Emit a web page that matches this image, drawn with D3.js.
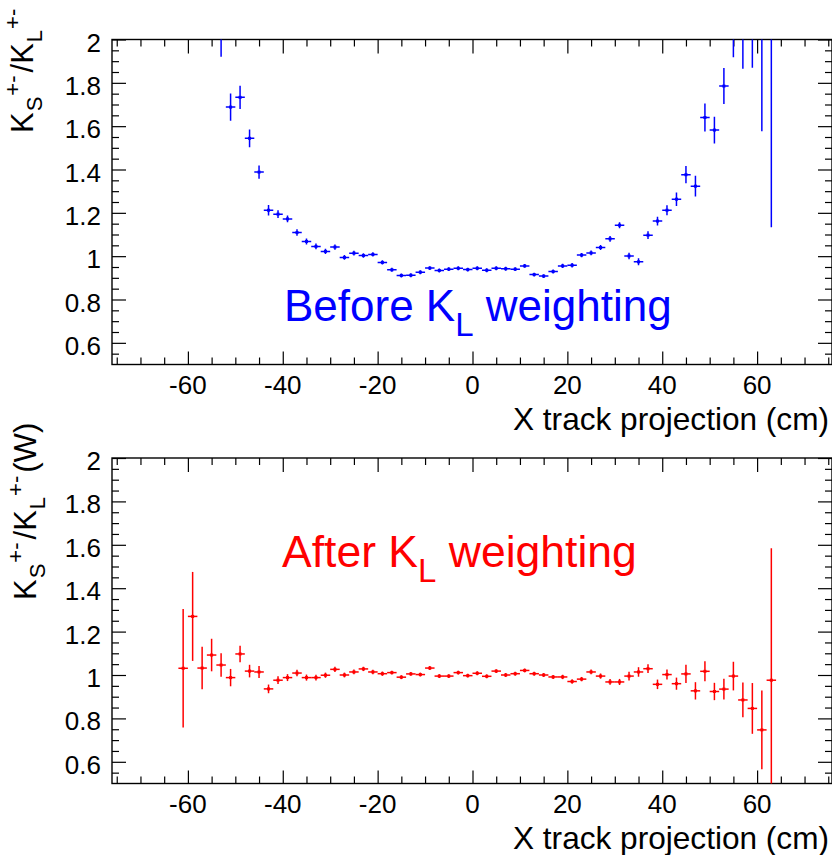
<!DOCTYPE html>
<html>
<head>
<meta charset="utf-8">
<script src="https://cdn.jsdelivr.net/npm/d3@7"></script>
<style>
  body { margin: 0; background: #fff; }
  text { font-family: "Liberation Sans", Arial, sans-serif; }
</style>
</head>
<body>
<div id="chart"></div>
<script>
var binX = [-63,-61,-59,-57,-55,-53,-51,-49,-47,-45,-43,-41,-39,-37,-35,-33,-31,-29,-27,-25,-23,-21,-19,-17,-15,-13,-11,-9,-7,-5,-3,-1,
  1,3,5,7,9,11,13,15,17,19,21,23,25,27,29,31,33,35,37,39,41,43,45,47,49,51,53,55,57,59,61,63];

// before weighting (null = empty bin)
var beforeVal = [null,null,null,null,null,2.30,1.688,1.733,1.544,1.388,1.212,1.194,1.172,1.109,1.068,1.045,1.022,1.042,0.994,1.014,1.003,1.008,0.971,0.937,0.911,0.912,0.926,0.945,0.934,0.940,0.944,0.938,
  0.944,0.935,0.944,0.942,0.940,0.955,0.915,0.908,0.929,0.955,0.958,1.005,1.015,1.040,1.080,1.143,1.001,0.974,1.097,1.162,1.212,1.263,1.376,1.323,1.640,1.582,1.785,2.20,2.30,2.40,2.50,2.60];
var beforeErr = [null,null,null,null,null,0.38,0.063,0.054,0.041,0.031,0.024,0.018,0.016,0.015,0.014,0.013,0.012,0.012,0.011,0.011,0.010,0.010,0.010,0.009,0.009,0.009,0.009,0.009,0.009,0.009,0.009,0.009,
  0.009,0.009,0.009,0.009,0.009,0.009,0.009,0.009,0.009,0.010,0.010,0.010,0.011,0.012,0.013,0.014,0.015,0.016,0.018,0.020,0.023,0.031,0.040,0.048,0.065,0.062,0.083,0.282,0.435,0.53,0.923,1.467];

// after KL weighting
var afterVal = [null,1.031,1.270,1.032,1.092,1.046,0.988,1.097,1.018,1.014,0.936,0.976,0.988,1.009,0.988,0.988,0.999,1.026,1.000,1.014,1.028,1.014,1.006,1.011,0.990,1.005,1.002,1.032,0.995,0.995,1.011,0.997,
  1.008,0.994,1.018,1.000,1.006,1.021,1.006,1.000,0.991,0.991,0.970,0.981,1.014,0.995,0.968,0.968,0.995,1.014,1.029,0.957,1.002,0.960,1.005,0.927,1.017,0.924,0.935,0.995,0.885,0.846,0.747,0.976];
var afterErr = [null,0.273,0.205,0.098,0.075,0.054,0.040,0.038,0.029,0.028,0.020,0.018,0.016,0.015,0.014,0.013,0.012,0.012,0.011,0.011,0.010,0.010,0.010,0.009,0.009,0.009,0.009,0.009,0.009,0.009,0.009,0.009,
  0.009,0.009,0.009,0.009,0.009,0.009,0.009,0.009,0.009,0.010,0.010,0.010,0.011,0.012,0.013,0.014,0.020,0.022,0.020,0.022,0.023,0.028,0.042,0.040,0.046,0.040,0.048,0.066,0.080,0.117,0.181,0.608];

var binHalf = 1;
var xTicks = [-60,-40,-20,0,20,40,60];
var yTicks = [0.6,0.8,1,1.2,1.4,1.6,1.8,2];
var xDomain = [-76,76];
var yDomain = [0.5,2];

var width = 832, height = 855;
var frameL = 112, frameR = 833;

var svg = d3.select("#chart").append("svg")
  .attr("width", width)
  .attr("height", height);

var x = d3.scaleLinear().domain(xDomain).range([frameL, frameR]);

function drawPanel(top, bottom, vals, errs, color, id) {
  var y = d3.scaleLinear().domain(yDomain).range([bottom, top]);
  var g = svg.append("g");

  var xMinor = d3.range(-75, 76, 5).filter(function(d){ return d % 20 != 0; });
  var yMinor = d3.range(0.55, 2.0, 0.05).filter(function(d){ return Math.abs(Math.round(d*5) - d*5) > 0.01; });

  // inward ticks on all four sides
  function tickLayer(axis, tr) {
    g.append("g").attr("class","tk").attr("transform", tr).call(axis);
  }
  tickLayer(d3.axisBottom(x).tickValues(xTicks).tickSize(-13).tickFormat(""), "translate(0," + bottom + ")");
  tickLayer(d3.axisBottom(x).tickValues(xMinor).tickSize(-7).tickFormat(""), "translate(0," + bottom + ")");
  tickLayer(d3.axisTop(x).tickValues(xTicks).tickSize(-14).tickFormat(""), "translate(0," + top + ")");
  tickLayer(d3.axisTop(x).tickValues(xMinor).tickSize(-7).tickFormat(""), "translate(0," + top + ")");
  tickLayer(d3.axisLeft(y).tickValues(yTicks).tickSize(-14).tickFormat(""), "translate(" + frameL + ",0)");
  tickLayer(d3.axisLeft(y).tickValues(yMinor).tickSize(-7).tickFormat(""), "translate(" + frameL + ",0)");
  tickLayer(d3.axisRight(y).tickValues(yTicks).tickSize(-14).tickFormat(""), "translate(" + (frameR - 1) + ",0)");
  tickLayer(d3.axisRight(y).tickValues(yMinor).tickSize(-7).tickFormat(""), "translate(" + (frameR - 1) + ",0)");
  g.selectAll(".tk .domain").remove();
  g.selectAll(".tk line").attr("stroke", "#000").attr("stroke-width", 1.2);

  g.append("rect")
    .attr("x", frameL).attr("y", top)
    .attr("width", frameR - 1 - frameL).attr("height", bottom - top)
    .attr("fill", "none").attr("stroke", "#000").attr("stroke-width", 1.4);

  // tick labels
  g.selectAll(".xl").data(xTicks).enter().append("text")
    .attr("x", function(d){ return x(d); })
    .attr("y", bottom + 29)
    .attr("text-anchor", "middle")
    .attr("font-size", "26px")
    .text(function(d){ return d; });
  g.selectAll(".yl").data(yTicks).enter().append("text")
    .attr("x", 101)
    .attr("y", function(d){ return y(d) + 12; })
    .attr("text-anchor", "end")
    .attr("font-size", "26px")
    .text(function(d){ return d; });

  g.append("text")
    .attr("x", 829).attr("y", bottom + 65)
    .attr("text-anchor", "end")
    .attr("font-size", "31.6px")
    .text("X track projection (cm)");

  // clip for points
  svg.append("clipPath").attr("id", id)
    .append("rect").attr("x", frameL).attr("y", top)
    .attr("width", frameR - frameL).attr("height", bottom - top);

  var pts = binX.map(function(d, i){ return {x: d, v: vals[i], e: errs[i]}; })
    .filter(function(d){ return d.v != null; });

  var pg = g.append("g").attr("clip-path", "url(#" + id + ")");
  pg.selectAll(".ev").data(pts).enter().append("line")
    .attr("x1", function(d){ return x(d.x); })
    .attr("x2", function(d){ return x(d.x); })
    .attr("y1", function(d){ return y(d.v - d.e); })
    .attr("y2", function(d){ return y(d.v + d.e); })
    .attr("stroke", color).attr("stroke-width", 1.5);
  pg.selectAll(".eh").data(pts).enter().append("line")
    .attr("x1", function(d){ return x(d.x - binHalf); })
    .attr("x2", function(d){ return x(d.x + binHalf); })
    .attr("y1", function(d){ return y(d.v); })
    .attr("y2", function(d){ return y(d.v); })
    .attr("stroke", color).attr("stroke-width", 1.5);
  pg.selectAll(".mk").data(pts).enter().append("rect")
    .attr("x", function(d){ return x(d.x) - 1.5; })
    .attr("y", function(d){ return y(d.v) - 1.5; })
    .attr("width", 3).attr("height", 3)
    .attr("fill", color);

  return g;
}

var gTop = drawPanel(39.5, 364.5, beforeVal, beforeErr, "#0000ff", "clipTop");
var gBot = drawPanel(458, 783.5, afterVal, afterErr, "#ff0000", "clipBot");

// y axis titles (rotated)
function yTitle(xb, yb, extra) {
  var t = svg.append("text")
    .attr("transform", "translate(" + xb + "," + yb + ") rotate(-90)")
    .attr("font-size", "31px");
  t.append("tspan").text("K");
  t.append("tspan").attr("font-size", "22px").attr("dy", 9).attr("dx", 1).text("S");
  t.append("tspan").attr("font-size", "22px").attr("dy", -22).attr("dx", 1).text("+-");
  t.append("tspan").attr("dy", 13).attr("dx", 3).text("/K");
  t.append("tspan").attr("font-size", "22px").attr("dy", 9).attr("dx", 1).text("L");
  t.append("tspan").attr("font-size", "22px").attr("dy", -22).attr("dx", 1).text("+-");
  if (extra) t.append("tspan").attr("dy", 13).attr("dx", 3).text(extra);
}
yTitle(33, 133, null);
yTitle(36, 600, "(W)");

// annotations
function label(xs, yb, fs, word, color) {
  var t = svg.append("text")
    .attr("x", xs).attr("y", yb)
    .attr("font-size", fs + "px")
    .attr("fill", color);
  t.append("tspan").text(word + " K");
  t.append("tspan").attr("font-size", Math.round(fs * 0.74) + "px").attr("dy", 15).text("L");
  t.append("tspan").attr("dy", -15).text(" weighting");
}
label(284, 321, 44, "Before", "#0000ff");
label(282, 567, 44.5, "After", "#ff0000");
</script>
</body>
</html>
